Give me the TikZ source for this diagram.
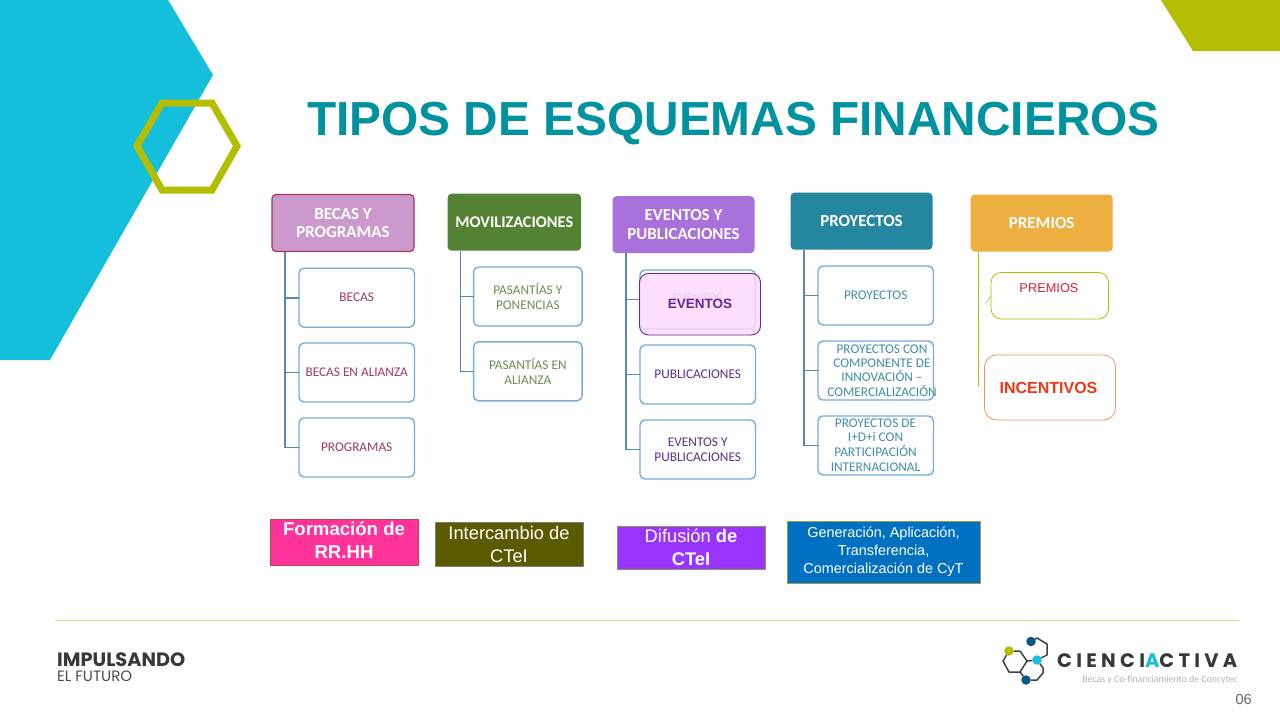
\documentclass[tikz,border=0pt]{standalone}
\usepackage{fontspec}
\setmainfont{Carlito}
\newfontfamily\arialf{Liberation Sans}
\newfontfamily\popf{Poppins}
\usetikzlibrary{calc}
\definecolor{cyanbg}{HTML}{13BFDB}
\definecolor{olive}{HTML}{B5BD00}
\definecolor{titlec}{HTML}{00929F}
\definecolor{linkc}{HTML}{5B86B2}
\definecolor{boxc}{HTML}{75ACDC}
\definecolor{magc}{HTML}{9E3A63}
\definecolor{grnc}{HTML}{6A8F50}
\definecolor{purc}{HTML}{5E2D8C}
\definecolor{tealc}{HTML}{3F8FA3}
\tikzset{
  head/.style={rounded corners=4pt,inner sep=0pt,outer sep=0pt,align=center,text=white,font=\bfseries\fontsize{16.9}{18.5}\selectfont,minimum width=142,minimum height=57},
  kid/.style={draw=boxc,line width=1.4pt,fill=white,rounded corners=5pt,inner sep=0pt,outer sep=0pt,align=center,font=\fontsize{13.3}{14.7}\selectfont,minimum width=115.5,minimum height=59},
  conn/.style={draw=linkc,line width=1.6pt},
  tag/.style={inner sep=0pt,outer sep=0pt,align=center,text=white,draw=#1,line width=.8pt,font=\arialf\fontsize{18.3}{23}\selectfont},
  tag/.default=gray,
  prem/.style={rounded corners=10pt,fill=white,inner sep=0pt,outer sep=0pt,align=center,font=\arialf},
  logoline/.style={draw=black!75,line width=1.5pt,line join=round},
  logodot/.style={circle,inner sep=0pt,outer sep=0pt,minimum size=9.5pt}
}
\begin{document}
\begin{tikzpicture}[x=1pt,y=-1pt]
\useasboundingbox (0,0) rectangle (1280,720);
\fill[white] (0,0) rectangle (1280,720);
% background
\fill[cyanbg] (0,0) -- (168,0) -- (213,75) -- (50,360) -- (0,360) -- cycle;
\fill[olive] (1161,0) -- (1280,0) -- (1280,51) -- (1193,51) -- cycle;
\draw[olive,line width=7pt,line join=miter] (137,146) -- (162,103) -- (212,103) -- (237,146) -- (212,190) -- (162,190) -- cycle;
\node[inner sep=0pt,text=titlec,font=\arialf\bfseries\fontsize{47.8}{50}\selectfont] (title) at (733.5,124) {TIPOS DE ESQUEMAS FINANCIEROS};
% column 1
\node[head,draw=magc,line width=1.2pt,fill={rgb,255:red,204;green,153;blue,204}] (h1) at (343,223) {BECAS Y\\PROGRAMAS};
\node[kid,text=magc] (a1) at (356.7,297.7) {BECAS};
\node[kid,text=magc] (a2) at (356.7,372.5) {BECAS EN ALIANZA};
\node[kid,text=magc] (a3) at (356.7,447.5) {PROGRAMAS};
\foreach \k in {a1,a2,a3} \draw[conn] ($(h1.south west)+(13,0)$) |- (\k.west);
% column 2
\node[head,minimum width=133.5,fill={rgb,255:red,84;green,130;blue,53},font=\bfseries\fontsize{16.3}{18.5}\selectfont] (h2) at (514.3,222.2) {MOVILIZACIONES};
\node[kid,text=grnc,minimum width=108.5] (b1) at (527.8,296.5) {PASANTÍAS Y\\PONENCIAS};
\node[kid,text=grnc,minimum width=108.5] (b2) at (527.8,371.3) {PASANTÍAS EN\\ALIANZA};
\foreach \k in {b1,b2} \draw[conn] ($(h2.south west)+(13,0)$) |- (\k.west);
% column 3
\node[head,fill={rgb,255:red,169;green,113;blue,219}] (h3) at (683.5,224.7) {EVENTOS Y\\PUBLICACIONES};
\node[kid,text=purc!60!white] (c1) at (697.7,299.5) {\raisebox{3pt}{EVENTOS}};
\node[kid,text=purc] (c2) at (697.7,374.5) {PUBLICACIONES};
\node[kid,text=purc] (c3) at (697.7,449.5) {EVENTOS Y\\PUBLICACIONES};
\foreach \k in {c1,c2,c3} \draw[conn] ($(h3.south west)+(13.5,0)$) |- (\k.west);
\node[draw=purc,line width=.9pt,fill={rgb,255:red,255;green,217;blue,255},fill opacity=.82,text opacity=1,rounded corners=9pt,inner sep=0pt,outer sep=0pt,minimum width=121,minimum height=61.5,text=purc,font=\arialf\bfseries\fontsize{13.5}{15}\selectfont] (c4) at (700,304.2) {EVENTOS};
% column 4
\node[head,fill={rgb,255:red,37;green,135;blue,159}] (h4) at (861.5,221.2) {PROYECTOS};
\node[kid,text=tealc] (d1) at (875.7,295.5) {PROYECTOS};
\node[kid,text=tealc] (d2) at (875.7,370.5) {};
\node[kid,text=tealc] (d3) at (875.7,445.5) {};
\node[text=tealc,inner sep=0pt,align=center,font=\fontsize{13.3}{14.4}\selectfont] (d2t) at (882,370.5) {PROYECTOS CON\\COMPONENTE DE\\INNOVACIÓN –\\COMERCIALIZACIÓN};
\node[text=tealc,inner sep=0pt,align=center,font=\fontsize{13.3}{14.6}\selectfont] (d3t) at (875.5,445) {PROYECTOS DE\\I+D+i CON\\PARTICIPACIÓN\\INTERNACIONAL};
\foreach \k in {d1,d2,d3} \draw[conn] ($(h4.south west)+(13.5,0)$) |- (\k.west);
% column 5
\node[head,fill={rgb,255:red,237;green,175;blue,63}] (h5) at (1041.7,223) {PREMIOS};
\coordinate (p0) at ($(h5.south west)+(8,0)$);
\coordinate (p1) at ($(p0)+(0,134)$);
\draw[olive,line width=1pt] (p0) -- (p1);
\node[prem,draw=olive,line width=.8pt,minimum width=117.5,minimum height=46.5] (e1) at (1049.8,295.7) {};
\node[inner sep=0pt,text={rgb,255:red,222;green,30;blue,60},font=\arialf\fontsize{12.8}{14}\selectfont] (e1t) at (1049,288) {PREMIOS};
\coordinate (tick) at ($(e1.west)+(-5,7)$);
\draw[olive!80!white,line width=.6pt] (tick) -- (e1.west);
\node[prem,rounded corners=12pt,draw={rgb,255:red,240;green,150;blue,90},line width=.8pt,minimum width=131,minimum height=65,text={rgb,255:red,238;green,55;blue,20},font=\arialf\bfseries\fontsize{16}{17}\selectfont] (e2) at (1050,387.5) {\hspace*{-3pt}INCENTIVOS};
% bottom tags
\node[tag=gray!60!red,fill={rgb,255:red,255;green,51;blue,153},minimum width=148,minimum height=44,font=\arialf\bfseries\fontsize{18.6}{23}\selectfont] (t1) at (344,542) {\raisebox{1pt}{\begin{tabular}{@{}c@{}}Formación de\\RR.HH\end{tabular}}};
\node[tag=gray,fill={rgb,255:red,90;green,90;blue,0},minimum width=148,minimum height=44] (t2) at (509,544) {Intercambio de\\CTeI};
\node[tag=gray!70!olive,fill={rgb,255:red,153;green,51;blue,255},minimum width=148,minimum height=43] (t3) at (691,547.5) {Difusión \textbf{de}\\\textbf{CTeI}};
\node[tag=gray!50!olive,fill={rgb,255:red,0;green,112;blue,192},minimum width=193,minimum height=62,font=\arialf\fontsize{14.4}{18.2}\selectfont] (t4) at (883.5,552) {\raisebox{-1pt}{\begin{tabular}{@{}c@{}}Generación, Aplicación,\\Transferencia,\\Comercialización de CyT\end{tabular}}};
% footer
\draw[olive!50!white,line width=.9pt] (55,620.5) -- (1239,620.5);
\node[anchor=west,inner sep=0pt,text=black!78,font=\popf\bfseries\fontsize{19.3}{20}\selectfont] (imp) at (57,660) {IMPULSANDO};
\node[anchor=west,inner sep=0pt,text=black!70,font=\popf\fontsize{15}{16}\selectfont] (fut) at (57,676) {EL FUTURO};
% logo
\node[logodot,fill=olive] (l1) at (1009,651) {};
\node[logodot,fill={rgb,255:red,10;green,85;blue,130}] (l2) at (1031,641.5) {};
\node[logodot,fill=cyanbg] (l3) at (1037,660) {};
\node[logodot,fill={rgb,255:red,10;green,85;blue,130}] (l4) at (1026,680) {};
\coordinate (m1) at (1027,661);
\coordinate (m2) at (1020,672);
\draw[logoline] (l1) -- (1020,651) -- (m1) -- (m2) -- (1009,672) -- (1003,661) -- (l1);
\draw[logoline] (m1) -- (l3);
\draw[logoline] (m2) -- (l4);
\draw[logoline] (l2) -- (1037,638) -- (1047,644) -- (1047,655) -- (l3);
\draw[logoline] (l3) -- (1043,668) -- (1043,673) -- (1037,680) -- (l4);
\node[anchor=west,inner sep=0pt,text=black!78,font=\popf\bfseries\fontsize{19.5}{20}\selectfont] (lg) at (1057,660.5) {\addfontfeature{LetterSpace=22}CIENCI{\color{cyanbg}A}CTIVA};
\node[anchor=east,inner sep=0pt,text=black!30,font=\fontsize{9.8}{12}\selectfont] (lgs) at (1238,680) {Becas y Co-financiamiento de Concytec};
\node[anchor=east,inner sep=0pt,text=black!60,font=\arialf\fontsize{14.5}{16}\selectfont] (pg) at (1252,700) {06};
\end{tikzpicture}
\end{document}
